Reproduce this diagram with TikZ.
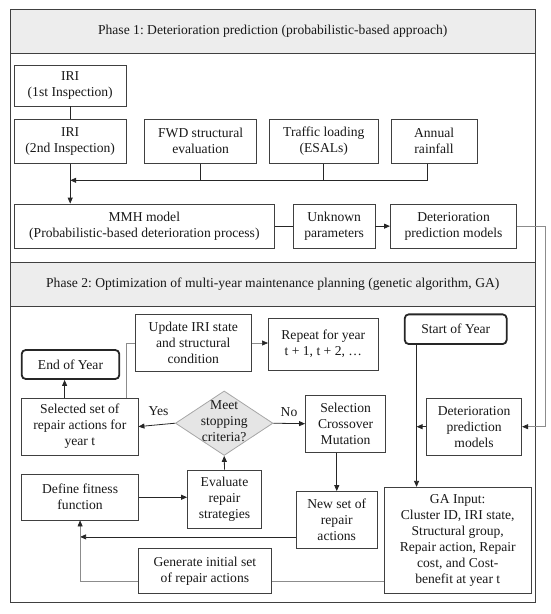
\documentclass[tikz,border=0pt]{standalone}
\usepackage{fontspec}
\setmainfont{Liberation Serif}
\usetikzlibrary{arrows.meta,shapes.geometric,calc}
\frenchspacing
\begin{document}
\begin{tikzpicture}[x=1pt,y=-1pt,
  font=\fontsize{13.6}{16}\selectfont,
  box/.style={draw=black!75, line width=0.8pt, fill=white, align=center, inner sep=1pt, text=black!90},
  yearbox/.style={box, rounded corners=4pt, line width=1.8pt, draw=black!85},
  conn/.style={draw=black!85, line width=0.8pt},
  arr/.style={conn, -{Triangle[length=6pt,width=5pt]}},
  gline/.style={draw=black!45, line width=0.6pt},
  garr/.style={gline, -{Triangle[length=6pt,width=5pt,black!85]}},
  hdr/.style={fill=black!7, draw=black!75, line width=0.8pt, text=black!90, inner sep=0pt},
  lbl/.style={text=black!90, inner sep=0pt}]
\useasboundingbox (0,0) rectangle (550,614);
% frame and headers
\draw[black!75, line width=0.8pt] (10,9.5) rectangle (535.5,602.5);
\node[hdr, minimum width=525.5pt, minimum height=43.8pt] (ph1) at (272.75,31.4) {Phase 1: Deterioration prediction (probabilistic-based approach)};
\node[hdr, minimum width=525.5pt, minimum height=44.5pt] (ph2) at (272.75,284.25) {Phase 2: Optimization of multi-year maintenance planning (genetic algorithm, GA)};
% phase 1 nodes
\node[box, minimum width=112.3pt, minimum height=41pt] (iri1) at (70.2,85.5) {IRI\\(1st Inspection)};
\node[box, minimum width=112.3pt, minimum height=44.3pt] (iri2) at (70.2,141.2) {IRI\\(2nd Inspection)};
\node[box, minimum width=112.3pt, minimum height=44.3pt] (fwd) at (200.6,141.2) {FWD structural\\evaluation};
\node[box, minimum width=108.8pt, minimum height=44.3pt] (traffic) at (323.8,141.2) {Traffic loading\\(ESALs)};
\node[box, minimum width=86pt, minimum height=44.3pt] (rain) at (434.1,141.2) {Annual\\rainfall};
\node[box, minimum width=260.7pt, minimum height=44.3pt] (mmh) at (144.35,226.15) {MMH model\\(Probabilistic-based deterioration process)};
\node[box, minimum width=81.7pt, minimum height=44.3pt] (unk) at (334.15,226.15) {Unknown\\parameters};
\node[box, minimum width=126.3pt, minimum height=44.3pt] (det1) at (453.55,226.15) {Deterioration\\prediction models};
\coordinate (bus) at (70.2,180.3);
\coordinate (rt) at (545,226.15);
% phase 1 connectors
\draw[conn] (iri1.south) -- (iri2.north);
\draw[arr] (iri2.south) -- (iri2.south |- mmh.north);
\draw[arr] ([xshift=-6.8pt]rain.south) |- (bus);
\draw[conn] (fwd.south) -- (fwd.south |- bus);
\draw[conn] (traffic.south) -- (traffic.south |- bus);
\draw[conn] (mmh.east) -- (unk.west);
\draw[arr] (unk.east) -- (det1.west);
% phase 2 nodes
\node[box, minimum width=116.6pt, minimum height=57.4pt] (upd) at (193.3,343) {Update IRI state\\and structural\\condition};
\node[box, minimum width=109.8pt, minimum height=51.7pt] (rep) at (323.3,344.2) {Repeat for year\\t + 1, t + 2, …};
\node[yearbox, minimum width=101.9pt, minimum height=29.7pt] (start) at (455.7,329.2) {Start of Year};
\node[yearbox, minimum width=97.6pt, minimum height=29pt] (end) at (70.5,364.5) {End of Year};
\node[box, minimum width=116.3pt, minimum height=57.2pt] (sel) at (79.85,426.6) {Selected set of\\repair actions for\\year t};
\node[diamond, draw=black!35, fill=black!10, line width=0.8pt, minimum width=97.5pt, minimum height=64.5pt, inner sep=0pt,
  label={[align=center, text=black!90, inner sep=0pt, yshift=2pt]center:Meet\\stopping\\criteria?}] (dia) at (224.2,423.2) {};
\node[box, minimum width=80.3pt, minimum height=57.3pt] (sco) at (345.6,423.7) {Selection\\Crossover\\Mutation};
\node[box, minimum width=95.2pt, minimum height=56.7pt] (det2) at (474.1,426.7) {Deterioration\\prediction\\models};
\node[box, minimum width=116.8pt, minimum height=45.5pt] (fit) at (80.1,497.25) {Define fitness\\function};
\node[box, minimum width=74pt, minimum height=58.3pt] (eva) at (224.5,499.2) {Evaluate\\repair\\strategies};
\node[box, minimum width=80.5pt, minimum height=56.8pt] (new) at (336.75,519.9) {New set of\\repair\\actions};
\node[box, minimum width=147.5pt, minimum height=106pt] (ga) at (457.75,540.3) {GA Input:\\Cluster ID, IRI state,\\Structural group,\\Repair action, Repair\\cost, and Cost-\\benefit at year t};
\node[box, minimum width=133.8pt, minimum height=45pt] (gen) at (204.9,570.8) {Generate initial set\\of repair actions};
\node[lbl] (yes) at (158.5,410.7) {Yes};
\node[lbl] (no) at (289,411.7) {No};
\coordinate (sv) at ([xshift=12.7pt]start.south west);
\coordinate (gl) at ([yshift=-10.9pt]gen.east);
\coordinate (gw) at ([yshift=-10.9pt]gen.west);
% phase 2 connectors
\draw[garr] (det1.east) -- (rt) |- (det2.east);
\draw[garr] (upd.east) -- (upd.east -| rep.west);
\draw[gline] ([xshift=-12.3pt]sel.north east) |- (upd.west);
\draw[arr] ([xshift=43.3pt]sel.north west) -- ([xshift=43.3pt]sel.north west |- end.south);
\draw[arr] (dia.west) -- (sel.east);
\draw[arr] (dia.east) -- (sco.west);
\draw[arr] (eva.north) -- (dia.south);
\draw[arr] (fit.east) -- (fit.east -| eva.west);
\draw[arr] (sco.south -| new.north) -- (new.north);
\draw[arr] ([yshift=-17pt]new.west) -- ([yshift=-17pt]new.west -| fit.south);
\draw[garr] (gw) -| (fit.south);
\draw[gline] (ga.west |- gl) -- (gl);
\draw[conn] (sv) -- (sv |- det2.west);
\draw[arr] (sv |- det2.west) -- (ga.north -| sv);
\draw[arr] (det2.west) -- (det2.west -| sv);
\end{tikzpicture}
\end{document}
